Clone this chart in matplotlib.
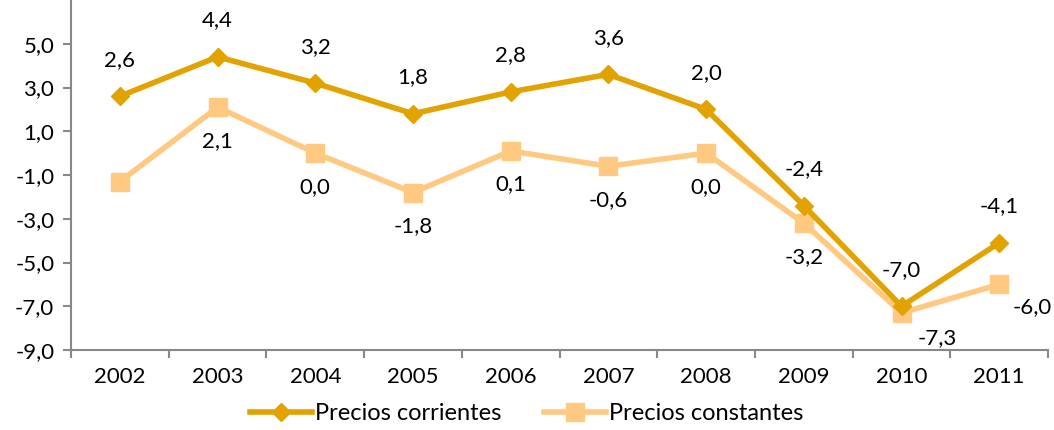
import matplotlib
matplotlib.use("Agg")
import matplotlib.pyplot as plt

plt.rcParams['font.family'] = ['Lato', 'DejaVu Sans']

years = ['2002', '2003', '2004', '2005', '2006', '2007', '2008', '2009', '2010', '2011']
corrientes = [2.6, 4.4, 3.2, 1.8, 2.8, 3.6, 2.0, -2.4, -7.0, -4.1]
constantes = [-1.3, 2.1, 0.0, -1.8, 0.1, -0.6, 0.0, -3.2, -7.3, -6.0]
show_const_label = [False, True, True, True, True, True, True, True, True, True]

c_dark = '#E2A200'
c_light = '#FFC982'

fig = plt.figure(figsize=(10.54, 4.30), dpi=100)
ax = fig.add_axes([0.0674, 0.186, 0.927, 0.814])

x = list(range(len(years)))
ax.plot(x, constantes, color=c_light, lw=4, marker='s', ms=13, label='Precios constantes', zorder=2)
ax.plot(x, corrientes, color=c_dark, lw=4, marker='D', ms=9, label='Precios corrientes', zorder=3)

def fmt(v):
    return f"{v:.1f}".replace('.', ',')

fs = 16
for i, v in enumerate(corrientes):
    ax.annotate(fmt(v), (i, v), xytext=(0, 19), textcoords='offset points',
                ha='center', va='bottom', fontsize=fs)
for i, v in enumerate(constantes):
    if not show_const_label[i]:
        continue
    if i == 8:
        off = (26, -11)
    elif i == 9:
        off = (24, -9)
    else:
        off = (0, -17)
    ax.annotate(fmt(v), (i, v), xytext=off, textcoords='offset points',
                ha='center', va='top', fontsize=fs)

ax.set_xlim(-0.5, 9.5)
ax.set_ylim(-9, 7)
ax.set_yticks([-9, -7, -5, -3, -1, 1, 3, 5])
ax.set_yticklabels([fmt(v) for v in [-9, -7, -5, -3, -1, 1, 3, 5]], fontsize=fs)
ax.set_xticks(x)
ax.set_xticklabels(years, fontsize=fs)
ax.set_xticks([i - 0.5 for i in range(len(years) + 1)], minor=True)
ax.tick_params(axis='x', which='major', length=0, pad=12)
ax.tick_params(axis='x', which='minor', length=6, color='#888888', width=1.5)
ax.tick_params(axis='y', length=6, color='#888888', width=1.5, pad=6)

for s in ['top', 'right']:
    ax.spines[s].set_visible(False)
for s in ['left', 'bottom']:
    ax.spines[s].set_color('#888888')
    ax.spines[s].set_linewidth(1.5)

h, l = ax.get_legend_handles_labels()
fig.legend(h[::-1], l[::-1], loc='lower center', bbox_to_anchor=(0.5, -0.035), ncol=2,
           frameon=False, fontsize=17, handlelength=2.6, columnspacing=1.8, handletextpad=0.15)

fig.savefig('out.png', dpi=100)
